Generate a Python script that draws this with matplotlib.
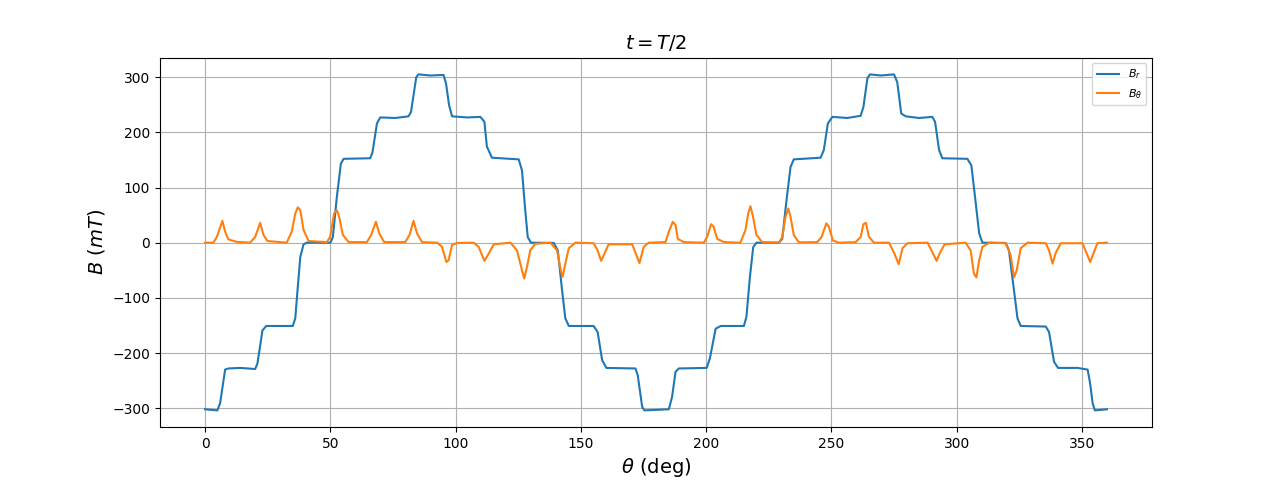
import numpy as np
import matplotlib
matplotlib.use("Agg")
import matplotlib.pyplot as plt

# B_r breakpoints (deg, mT)
theta_r = [0, 4.9, 6.0, 8.0, 9.3, 14, 20, 20.9, 22.9, 24.4, 35, 36, 36.9, 38, 39.3, 40.6,
           50, 51, 52.6, 54.2, 55.3, 65.9, 66.8, 68.6, 69.9, 75.9, 81.2, 82.2, 84.3, 85.2,
           89.9, 95.2, 96.2, 97.4, 98.6, 104.5, 109.9, 111.5, 112.5, 114.5, 125.2, 126.5,
           127.8, 128.8, 130.1, 139.2, 140.8, 142.5, 143.8, 145.2, 155.1, 156.7, 158.5,
           160.2, 171.8, 172.7, 174.5, 175.4, 185.1, 186.4, 187.8, 189.1, 200.2, 201.5,
           203.8, 205.8, 215.1, 216.1, 217.5, 218.8, 220.1, 229.1, 230.4, 232.1, 233.7,
           235.0, 245.7, 247.0, 248.6, 250.4, 256.4, 261.7, 262.8, 264.4, 265.4, 269.7,
           275.0, 276.3, 277.9, 279.7, 285.0, 290.3, 291.4, 293.0, 294.3, 304.3, 305.9,
           307.2, 309.0, 310.3, 319.6, 320.9, 322.9, 324.3, 325.6, 335.6, 336.9, 338.9,
           340.5, 348.3, 352.3, 353.3, 354.3, 355.2, 360]
B_r = [-302, -304, -291, -230, -228, -227, -229, -219, -159, -151, -151, -137, -86, -26, -3, 0,
       0, 10, 83, 143, 152, 153, 163, 216, 227, 226, 229, 237, 300, 305,
       303, 304, 288, 249, 229, 227, 228, 219, 174, 154, 151, 131,
       59, 10, 0, -0.5, -14, -86, -137, -151, -151, -162, -213,
       -227, -228, -240, -298, -304, -302, -280, -234, -228, -227, -210,
       -156, -151, -151, -134, -62, -8, 0, 0, 7, 77, 137,
       151, 154, 168, 216, 228, 226, 230, 246, 298, 305, 303,
       305, 291, 234, 229, 226, 228, 219, 168, 153, 152, 140,
       89, 17, 0, -0.5, -14, -86, -137, -151, -152, -162, -216,
       -227, -227, -230, -255, -291, -304, -302]

# B_theta breakpoints (deg, mT)
theta_t = [0, 3.3, 4.7, 6.9, 8.0, 9.3, 12.6, 18.0, 20.0, 22.0, 23.3, 24.9, 32.6, 34.6, 36.0,
           37.0, 38.0, 39.3, 41.3, 48.6, 49.9, 51.5, 52.6, 53.5, 55.0, 57.3, 64.6, 66.3,
           68.2, 69.5, 71.5, 79.9, 81.6, 83.2, 84.6, 86.6, 92.6, 94.6, 96.3, 97.2, 98.6,
           100.6, 107.2, 109.2, 111.5, 113.2, 115.2, 121.9, 124.5, 126.5, 127.4, 128.5,
           129.8, 131.8, 137.8, 140.5, 142.1, 142.7, 143.8, 145.2, 147.8, 155.1, 156.7,
           158.1, 159.4, 161.1, 170.5, 171.8, 173.4, 175.1, 177.1, 183.8, 185.1, 186.7,
           187.8, 188.7, 191.1, 199.1, 200.4, 202.0, 203.0, 204.4, 207.1, 213.7, 215.7,
           216.8, 217.7, 218.6, 220.1, 222.4, 229.1, 230.4, 231.7, 232.8, 233.7, 235.0,
           237.0, 244.4, 246.1, 248.0, 249.0, 250.6, 253.0, 259.7, 261.7, 262.8, 263.8,
           265.0, 267.0, 273.0, 275.0, 276.9, 278.4, 280.4, 288.4, 290.4, 292.0, 293.4,
           295.2, 303.6, 305.6, 306.9, 307.9, 309.0, 310.3, 313.1, 319.6, 321.6, 322.9,
           324.0, 325.6, 328.3, 335.6, 336.9, 338.3, 339.6, 341.6, 350.2, 351.8, 353.3,
           354.6, 356.2, 360]
B_t = [0, 0, 10.5, 39.5, 20, 6, 1.5, 0, 10.5, 36, 14, 3, 0, 20, 53,
       64, 59, 23, 3, 1, 10.5, 53, 59, 47, 14, 1, 1, 14,
       38, 17, 1, 1, 14, 39.5, 17, 1, 0, -7.6, -35, -32, -4,
       -0.5, 0, -7.6, -33, -20, -3, 0, -14, -50, -65, -44,
       -14, -2, 0, -14, -53, -62, -38, -10, 0, -1, -14,
       -33, -20, -3, -3, -18, -37, -7.6, 0, 1, 19.6, 37.7,
       32, 7, 1, 0, 10.5, 33.5, 29, 7, 1, 0, 22.7,
       53, 66, 50, 14, 1, 0, 10.5, 47, 62, 47, 14,
       0.6, 1, 10.5, 35, 29, 4, 0, 1, 10.5, 33.5, 36,
       10.5, 0, 0, -18, -39, -10, -1, 0, -18, -33, -18,
       -3, 0, -14, -56, -63, -32, -7.6, 0, -1, -23, -63,
       -50, -10, 0, -1, -14, -38, -18, -1, -1, -18, -35,
       -20, -1, 0]

fig = plt.figure(figsize=(12.8, 4.8))
ax = fig.add_subplot(111)
ax.plot(theta_r, B_r, label="$B_r$")
ax.plot(theta_t, B_t, label=r"$B_\theta$")
ax.set_title("$t=T/2$", fontsize=14)
ax.set_xlabel(r"$\theta$ (deg)", fontsize=14)
ax.set_ylabel(r"$B\ (mT)$", fontsize=14)
ax.set_yticks([-300, -200, -100, 0, 100, 200, 300])
ax.grid(True)
ax.legend(fontsize=8)

plt.savefig("out.png")
